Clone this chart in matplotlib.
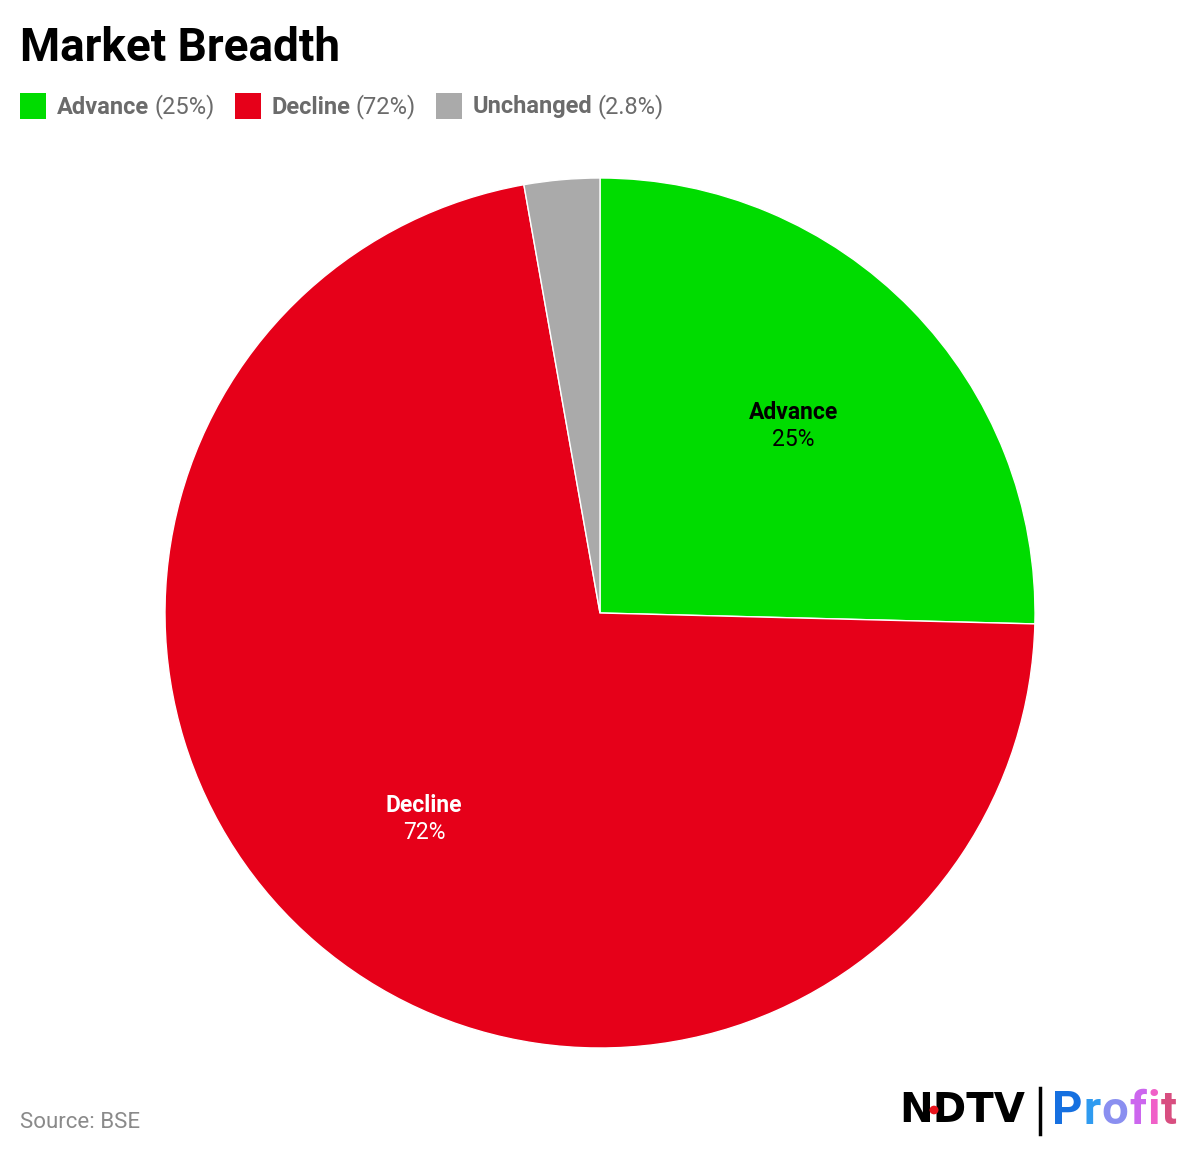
import matplotlib
matplotlib.use('Agg')
import matplotlib.pyplot as plt
import matplotlib.patches as mpatches
import numpy as np

plt.rcParams['font.family'] = ['Roboto', 'DejaVu Sans']

categories = ['Advance', 'Decline', 'Unchanged']
shares = [25.4, 71.8, 2.8]
share_labels = ['25%', '72%', '2.8%']
colors = ['#00dc00', '#e60019', '#aaaaaa']
label_colors = ['#000000', '#ffffff', '#000000']

W, H = 1200, 1155
fig = plt.figure(figsize=(W / 100, H / 100), dpi=100)

# pie axes, centred at (600, 613) px with radius 435 px
cx, cy, r = 600, 613, 435
ax = fig.add_axes([(cx - r) / W, 1 - (cy + r) / H, 2 * r / W, 2 * r / H])
wedges, _ = ax.pie(shares, colors=colors, startangle=90, counterclock=False,
                   wedgeprops=dict(edgecolor='white', linewidth=1))
ax.set_xlim(-1, 1)
ax.set_ylim(-1, 1)
ax.set_aspect('equal')
ax.axis('off')

# slice labels for the big slices
for w, name, pct, col in zip(wedges, categories, share_labels, label_colors):
    if w.theta2 - w.theta1 < 20:
        continue
    mid = np.deg2rad((w.theta1 + w.theta2) / 2)
    x, y = 0.62 * np.cos(mid), 0.62 * np.sin(mid)
    ax.annotate(name, (x, y), xytext=(0, 9), textcoords='offset points',
                ha='center', va='center', fontsize=16.5, fontweight='bold', color=col)
    ax.annotate(pct, (x, y), xytext=(0, -11), textcoords='offset points',
                ha='center', va='center', fontsize=16.5, color=col)

# title
fig.text(20 / W, 1 - 48 / H, 'Market Breadth', fontsize=33, fontweight='bold',
         color='#000000', ha='left', va='center')

# legend row
renderer = fig.canvas.get_renderer()
x = 20
ly = 1 - 107 / H
for name, pct, col in zip(categories, share_labels, colors):
    fig.patches.append(mpatches.Rectangle((x / W, 1 - 119 / H), 26 / W, 26 / H,
                                          transform=fig.transFigure, facecolor=col,
                                          edgecolor='none'))
    x += 37
    t1 = fig.text(x / W, ly, name, fontsize=17, fontweight='bold', color='#6b6b6b',
                  ha='left', va='center')
    x += t1.get_window_extent(renderer).width + 5
    t2 = fig.text(x / W, ly, '(' + pct + ')', fontsize=17, color='#6b6b6b',
                  ha='left', va='center')
    x += t2.get_window_extent(renderer).width + 20

# source
fig.text(20 / W, 1 - 1122 / H, 'Source: BSE', fontsize=16, color='#8a8a8a',
         ha='left', va='center')

# logo
fig.text(899 / W, 1 - 1111 / H, 'NDTV', fontsize=29, fontweight='heavy',
         color='#000000', ha='left', va='center', family='DejaVu Sans')
fig.patches.append(mpatches.Circle((934 / W, 1 - 1110 / H), 4.5 / W,
                                   transform=fig.transFigure, facecolor='#e8141c',
                                   zorder=10))
fig.lines.append(plt.Line2D([1040 / W, 1040 / W], [1 - 1088 / H, 1 - 1134 / H],
                            transform=fig.transFigure, color='#000000', linewidth=2.5))
logo_colors = ['#1670e0', '#2f9bf0', '#8a8ff0', '#cc66ee', '#f060c8', '#d84e80']
lx = 1052
for ch, col in zip('Profit', logo_colors):
    t = fig.text(lx / W, 1 - 1111 / H, ch, fontsize=34, fontweight='bold',
                 color=col, ha='left', va='center')
    lx += t.get_window_extent(renderer).width + 1

fig.savefig('out.png', dpi=100, facecolor='white')
